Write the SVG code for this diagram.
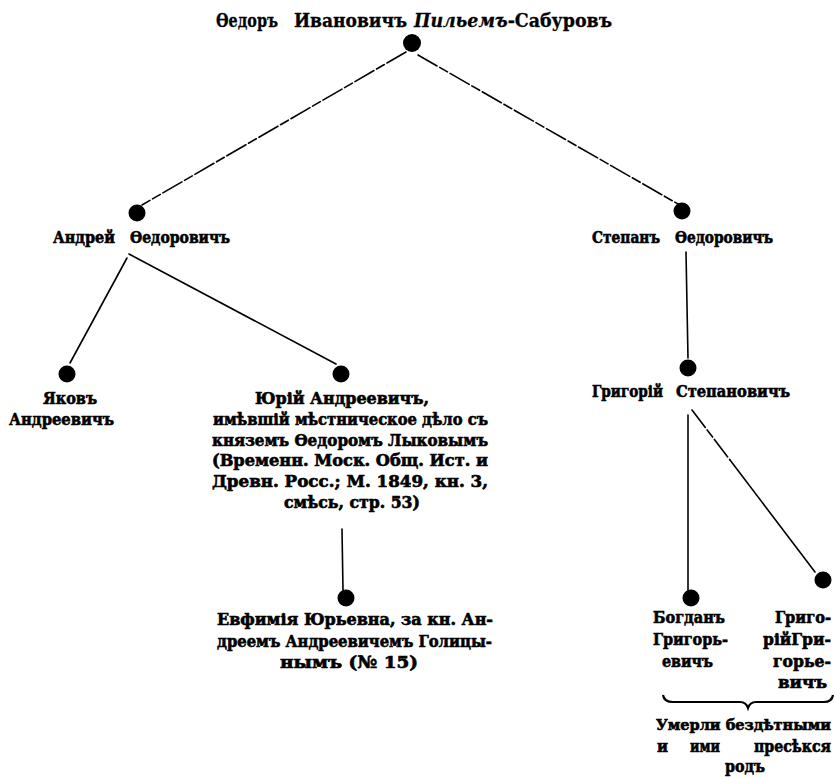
<svg xmlns="http://www.w3.org/2000/svg" width="836" height="777" viewBox="0 0 836 777">
<style>
.t{font-family:"DejaVu Serif Condensed","DejaVu Serif","Liberation Serif",serif;font-weight:bold;font-size:17px;fill:#000;stroke:#000;stroke-width:0.6}
.ti{font-family:"DejaVu Serif","Liberation Serif",serif;font-weight:bold;font-size:19px;fill:#000;stroke:#000;stroke-width:0.3}
.it{font-style:italic}
.d{fill:#000}
.c{stroke:#000;stroke-width:1.6;fill:none;stroke-linecap:round}
.dash{stroke-dasharray:22 3 9 3}
</style>
<rect width="836" height="777" fill="#fff"/>
<g id="connectors">
<line class="c dash" x1="406" y1="52" x2="142" y2="205"/>
<line class="c dash" x1="418" y1="55" x2="678" y2="204"/>
<line class="c" x1="127" y1="258" x2="70" y2="363"/>
<line class="c" x1="129" y1="254" x2="336" y2="364"/>
<line class="c" x1="342" y1="529" x2="343" y2="590"/>
<line class="c" x1="686" y1="252" x2="688" y2="358"/>
<line class="c" x1="688" y1="415" x2="688" y2="590"/>
<line class="c dash" x1="692" y1="410" x2="730" y2="460"/>
<line class="c" x1="730" y1="460" x2="815" y2="572"/>
</g>
<g id="root">
<text class="ti" x="216" y="27" textLength="62" lengthAdjust="spacingAndGlyphs">Ѳедоръ</text>
<text class="ti" x="294" y="27" textLength="113" lengthAdjust="spacingAndGlyphs">Ивановичъ</text>
<text class="ti" x="414" y="27" textLength="198" lengthAdjust="spacingAndGlyphs"><tspan class="it">Пильемъ</tspan>-Сабуровъ</text>
<circle class="d" cx="412" cy="43" r="9"/>
</g>
<g id="andrei">
<circle class="d" cx="137" cy="213" r="8.5"/>
<text class="t" x="53" y="243" textLength="62" lengthAdjust="spacingAndGlyphs">Андрей</text>
<text class="t" x="130" y="243" textLength="100" lengthAdjust="spacingAndGlyphs">Ѳедоровичъ</text>
</g>
<g id="stepan">
<circle class="d" cx="682" cy="211" r="8.5"/>
<text class="t" x="592" y="243" textLength="68" lengthAdjust="spacingAndGlyphs">Степанъ</text>
<text class="t" x="675" y="243" textLength="98" lengthAdjust="spacingAndGlyphs">Ѳедоровичъ</text>
</g>
<g id="yakov">
<circle class="d" cx="67" cy="374" r="8.5"/>
<text class="t" x="43" y="404" textLength="54" lengthAdjust="spacingAndGlyphs">Яковъ</text>
<text class="t" x="9" y="425" textLength="105" lengthAdjust="spacingAndGlyphs">Андреевичъ</text>
</g>
<g id="yuri">
<circle class="d" cx="341" cy="374" r="8.5"/>
<text class="t" x="255" y="404" textLength="174" lengthAdjust="spacingAndGlyphs">Юрій  Андреевичъ,</text>
<text class="t" x="213" y="425" textLength="275" lengthAdjust="spacingAndGlyphs">имѣвшій мѣстническое дѣло съ</text>
<text class="t" x="212" y="446" textLength="276" lengthAdjust="spacingAndGlyphs">княземъ Ѳедоромъ Лыковымъ</text>
<text class="t" x="212" y="466" textLength="276" lengthAdjust="spacingAndGlyphs">(Временн. Моск. Общ. Ист. и</text>
<text class="t" x="212" y="487" textLength="276" lengthAdjust="spacingAndGlyphs">Древн. Росс.; М. 1849, кн. 3,</text>
<text class="t" x="284" y="508" textLength="136" lengthAdjust="spacingAndGlyphs">смѣсь, стр. 53)</text>
</g>
<g id="evfimia">
<circle class="d" cx="346" cy="598" r="8.5"/>
<text class="t" x="217" y="625" textLength="276" lengthAdjust="spacingAndGlyphs">Евфимія  Юрьевна, за кн. Ан-</text>
<text class="t" x="217" y="647" textLength="275" lengthAdjust="spacingAndGlyphs">дреемъ  Андреевичемъ Голицы-</text>
<text class="t" x="280" y="668" textLength="138" lengthAdjust="spacingAndGlyphs">нымъ (№  15)</text>
</g>
<g id="grigorii">
<circle class="d" cx="688" cy="368" r="8.5"/>
<text class="t" x="592" y="397" textLength="71" lengthAdjust="spacingAndGlyphs">Григорій</text>
<text class="t" x="676" y="397" textLength="114" lengthAdjust="spacingAndGlyphs">Степановичъ</text>
</g>
<g id="bogdan">
<circle class="d" cx="691" cy="598" r="8.5"/>
<text class="t" x="653" y="623" textLength="72" lengthAdjust="spacingAndGlyphs">Богданъ</text>
<text class="t" x="653" y="645" textLength="75" lengthAdjust="spacingAndGlyphs">Григорь-</text>
<text class="t" x="662" y="667" textLength="51" lengthAdjust="spacingAndGlyphs">евичъ</text>
</g>
<g id="grigorii2">
<circle class="d" cx="823" cy="580" r="8.5"/>
<text class="t" x="775" y="623" textLength="56" lengthAdjust="spacingAndGlyphs">Григо-</text>
<text class="t" x="763" y="645" textLength="68" lengthAdjust="spacingAndGlyphs">рійГри-</text>
<text class="t" x="773" y="667" textLength="58" lengthAdjust="spacingAndGlyphs">горье-</text>
<text class="t" x="778" y="688" textLength="49" lengthAdjust="spacingAndGlyphs">вичъ</text>
</g>
<g id="note">
<path d="M663,695 Q664,702 673,702 L740,702 Q746,702 748,708 Q750,702 756,702 L824,702 Q832,702 833,695" stroke="#000" stroke-width="2.2" fill="none"/>
<text class="t" x="656" y="730" textLength="175" lengthAdjust="spacingAndGlyphs" style="font-size:15.5px">Умерли бездѣтными</text>
<text class="t" x="657" y="752" textLength="11" lengthAdjust="spacingAndGlyphs">и</text>
<text class="t" x="690" y="752" textLength="30" lengthAdjust="spacingAndGlyphs">ими</text>
<text class="t" x="754" y="752" textLength="77" lengthAdjust="spacingAndGlyphs">пресѣкся</text>
<text class="t" x="725" y="772" textLength="40" lengthAdjust="spacingAndGlyphs">родъ</text>
</g>
</svg>
